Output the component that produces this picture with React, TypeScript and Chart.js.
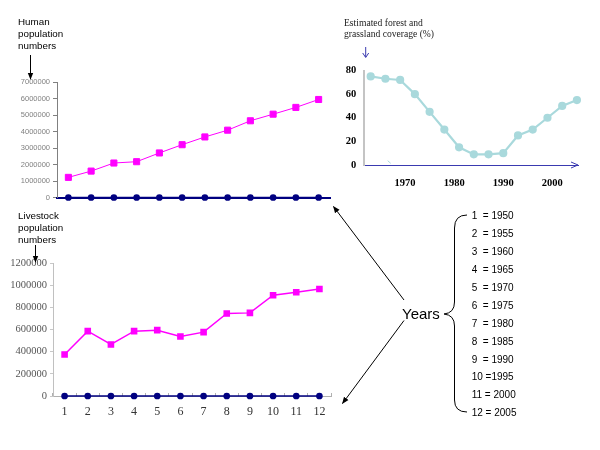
import React, { useEffect, useRef } from "react";
import { Chart, registerables } from "chart.js";

Chart.register(...registerables);

// ---------- data ----------
const periods = ["1", "2", "3", "4", "5", "6", "7", "8", "9", "10", "11", "12"];
const humanPopulation = [1220000, 1600000, 2090000, 2170000, 2700000, 3200000, 3670000, 4080000, 4650000, 5050000, 5460000, 5940000];
const humanBaseline = [0, 0, 0, 0, 0, 0, 0, 0, 0, 0, 0, 0];
const humanTicks = [0, 1000000, 2000000, 3000000, 4000000, 5000000, 6000000, 7000000];

const livestockPopulation = [375000, 585000, 465000, 585000, 594000, 537000, 576000, 744000, 750000, 909000, 936000, 966000];
const livestockBaseline = [0, 0, 0, 0, 0, 0, 0, 0, 0, 0, 0, 0];
const livestockTicks = [0, 200000, 400000, 600000, 800000, 1000000, 1200000];

const coverageYears = [1963, 1966, 1969, 1972, 1975, 1978, 1981, 1984, 1987, 1990, 1993, 1996, 1999, 2002, 2005];
const coveragePercent = [75, 73, 72, 60, 45, 30, 15, 9, 9, 10, 25, 30, 40, 50, 55];
const coverageYearTicks = [1970, 1980, 1990, 2000];
const coverageTicks = [0, 20, 40, 60, 80];

const yearKey = [
  "1  = 1950", "2  = 1955", "3  = 1960", "4  = 1965", "5  = 1970", "6  = 1975",
  "7  = 1980", "8  = 1985", "9  = 1990", "10 =1995", "11 = 2000", "12 = 2005",
];

const MAGENTA = "#ff00ff";
const NAVY = "#000080";
const CYAN = "#a9d9dc";

const base = {
  animation: false,
  responsive: false,
  maintainAspectRatio: false,
  events: [],
  plugins: { legend: { display: false }, tooltip: { enabled: false } },
};

function humanConfig(): any {
  return {
    type: "line",
    data: {
      labels: periods,
      datasets: [
        { data: humanBaseline, borderColor: NAVY, backgroundColor: NAVY, borderWidth: 1.5, pointStyle: "circle", pointRadius: 2.6, clip: false },
        { data: humanPopulation, borderColor: MAGENTA, backgroundColor: MAGENTA, borderWidth: 1, pointStyle: "rect", pointRadius: 4.3, clip: false },
      ],
    },
    options: {
      ...base,
      layout: { padding: { top: 12, right: 10, left: 0, bottom: 0 } },
      scales: {
        x: {
          type: "category", offset: true,
          ticks: { display: false },
          grid: { display: false },
          border: { color: NAVY, width: 2 },
          afterFit: (s: any) => { s.height = 12.5; },
        },
        y: {
          min: 0, max: 7000000,
          afterBuildTicks: (s: any) => { s.ticks = humanTicks.map((v) => ({ value: v })); },
          ticks: { callback: (v: any) => String(v), color: "#808080", font: { family: "Liberation Sans", size: 7.5 }, padding: 3 },
          grid: { drawOnChartArea: false, drawTicks: true, tickLength: 4, color: "#808080" },
          border: { color: "#808080", width: 1 },
          afterFit: (s: any) => { s.width = 57; },
        },
      },
    },
  };
}

function livestockConfig(): any {
  return {
    type: "line",
    data: {
      labels: periods,
      datasets: [
        { data: livestockBaseline, borderColor: NAVY, backgroundColor: NAVY, borderWidth: 1.5, pointStyle: "circle", pointRadius: 2.6, clip: false },
        { data: livestockPopulation, borderColor: MAGENTA, backgroundColor: MAGENTA, borderWidth: 1.5, pointStyle: "rect", pointRadius: 3.6, clip: false },
      ],
    },
    options: {
      ...base,
      layout: { padding: { top: 13, right: 9, left: 0, bottom: 0 } },
      scales: {
        x: {
          type: "category", offset: true,
          ticks: { color: "#333", font: { family: "Liberation Serif", size: 12 }, padding: 12, maxRotation: 0, autoSkip: false },
          grid: { drawOnChartArea: false, drawTicks: true, tickLength: -3, color: "#b0b0b0", offset: true },
          border: { color: "#b0b0b0", width: 1 },
          afterFit: (s: any) => { s.height = 34; },
        },
        y: {
          min: 0, max: 1200000,
          afterBuildTicks: (s: any) => { s.ticks = livestockTicks.map((v) => ({ value: v })); },
          ticks: { callback: (v: any) => String(v), color: "#555", font: { family: "Liberation Serif", size: 10.5 }, padding: 3 },
          grid: { drawOnChartArea: false, drawTicks: true, tickLength: 3, color: "#c8c8c8" },
          border: { color: "#c0c0c0", width: 1 },
          afterFit: (s: any) => { s.width = 53; },
        },
      },
    },
  };
}

function coverageConfig(): any {
  return {
    type: "line",
    data: {
      datasets: [
        {
          data: coverageYears.map((x, i) => ({ x, y: coveragePercent[i] })),
          borderColor: CYAN, backgroundColor: CYAN, borderWidth: 2.2,
          pointStyle: "circle", pointRadius: 3, clip: false,
        },
      ],
    },
    options: {
      ...base,
      layout: { padding: { top: 15.5, right: 21.6, left: 0, bottom: 0 } },
      scales: {
        x: {
          type: "linear", min: 1961.7, max: 2005.3,
          afterBuildTicks: (s: any) => { s.ticks = coverageYearTicks.map((v) => ({ value: v })); },
          ticks: { callback: (v: any) => String(v), color: "#000", font: { family: "Liberation Serif", size: 10.5, weight: "bold" }, padding: 12 },
          grid: { display: false, drawTicks: false },
          border: { color: "#3a3ab0", width: 1 },
          afterFit: (s: any) => { s.height = 30; },
        },
        y: {
          min: 0, max: 80,
          afterBuildTicks: (s: any) => { s.ticks = coverageTicks.map((v) => ({ value: v })); },
          ticks: { color: "#000", font: { family: "Liberation Serif", size: 10.5, weight: "bold" }, padding: 8 },
          grid: { display: false, drawTicks: false },
          border: { color: "#c4c4c4", width: 2 },
          afterFit: (s: any) => { s.width = 24.3; },
        },
      },
    },
  };
}

function ChartBox(props: { left: number; top: number; width: number; height: number; make: () => any }) {
  const ref = useRef<HTMLCanvasElement | null>(null);
  useEffect(() => {
    if (!ref.current) return;
    const chart = new Chart(ref.current, props.make());
    return () => chart.destroy();
  }, []);
  return (
    <canvas
      ref={ref}
      width={props.width}
      height={props.height}
      style={{ position: "absolute", left: props.left, top: props.top, width: props.width, height: props.height }}
    />
  );
}

export default function App() {
  const sans = "'Liberation Sans', Arial, sans-serif";
  const serif = "'Liberation Serif', 'Times New Roman', serif";
  return (
    <div style={{ position: "fixed", left: 0, top: 0, width: 600, height: 450, background: "#fff", overflow: "hidden" }}>
      <ChartBox left={0} top={70} width={340} height={140} make={humanConfig} />
      <ChartBox left={0} top={250} width={340} height={180} make={livestockConfig} />
      <ChartBox left={340} top={55} width={260} height={140} make={coverageConfig} />
      <svg width={600} height={450} style={{ position: "absolute", left: 0, top: 0, pointerEvents: "none" }}>
        <defs>
          <marker id="headBlack" viewBox="0 0 10 10" refX="9" refY="5" markerWidth="7" markerHeight="7" orient="auto-start-reverse" markerUnits="userSpaceOnUse">
            <path d="M0,1 L10,5 L0,9 z" fill="#000" />
          </marker>
        </defs>
        {/* Human label */}
        <text fontFamily={sans} fontSize={9.8} fill="#000">
          <tspan x={18} y={25}>Human</tspan>
          <tspan x={18} y={37}>population</tspan>
          <tspan x={18} y={48.5}>numbers</tspan>
        </text>
        <line x1={30.5} y1={55} x2={30.5} y2={79} stroke="#000" strokeWidth={1} markerEnd="url(#headBlack)" />

        {/* Livestock label */}
        <text fontFamily={sans} fontSize={9.8} fill="#000">
          <tspan x={18} y={219}>Livestock</tspan>
          <tspan x={18} y={231}>population</tspan>
          <tspan x={18} y={242.5}>numbers</tspan>
        </text>
        <line x1={35.5} y1={245} x2={35.5} y2={262} stroke="#000" strokeWidth={1} markerEnd="url(#headBlack)" />

        {/* Forest label */}
        <text fontFamily={serif} fontSize={9.6} fill="#222">
          <tspan x={344} y={25.5}>Estimated forest and</tspan>
          <tspan x={344} y={37}>grassland coverage (%)</tspan>
        </text>
        <line x1={365.7} y1={47} x2={365.7} y2={57} stroke="#3a3ab0" strokeWidth={1} />
        <path d="M362.7,53 L365.7,57.5 L368.7,53" fill="none" stroke="#3a3ab0" strokeWidth={1} />
        {/* x-axis arrowhead of coverage chart */}
        <path d="M571,162 L578,165 L571,168" fill="none" stroke="#3a3ab0" strokeWidth={1} />
        <line x1={387.7} y1={160.7} x2={390.7} y2={163.3} stroke={CYAN} strokeWidth={1} />

        {/* Years arrows */}
        <line x1={404} y1={300} x2={333.5} y2={206.5} stroke="#000" strokeWidth={1} markerEnd="url(#headBlack)" />
        <line x1={404} y1={320.5} x2={342.5} y2={403.5} stroke="#000" strokeWidth={1} markerEnd="url(#headBlack)" />
        <text x={402} y={318.5} fontFamily={sans} fontSize={15} fill="#000">Years</text>

        {/* Brace */}
        <path d="M467,215 Q454.5,215 454.5,228 L454.5,302 Q454.5,313 444,314 Q454.5,315 454.5,326 L454.5,400 Q454.5,412 467,412"
          fill="none" stroke="#000" strokeWidth={1} />

        {/* Year key */}
        {yearKey.map((t, i) => (
          <text key={t} x={471.7} y={219.3 + i * 17.9} fontFamily={sans} fontSize={10} fill="#000" style={{ whiteSpace: "pre" }}>
            {t}
          </text>
        ))}
      </svg>
    </div>
  );
}
